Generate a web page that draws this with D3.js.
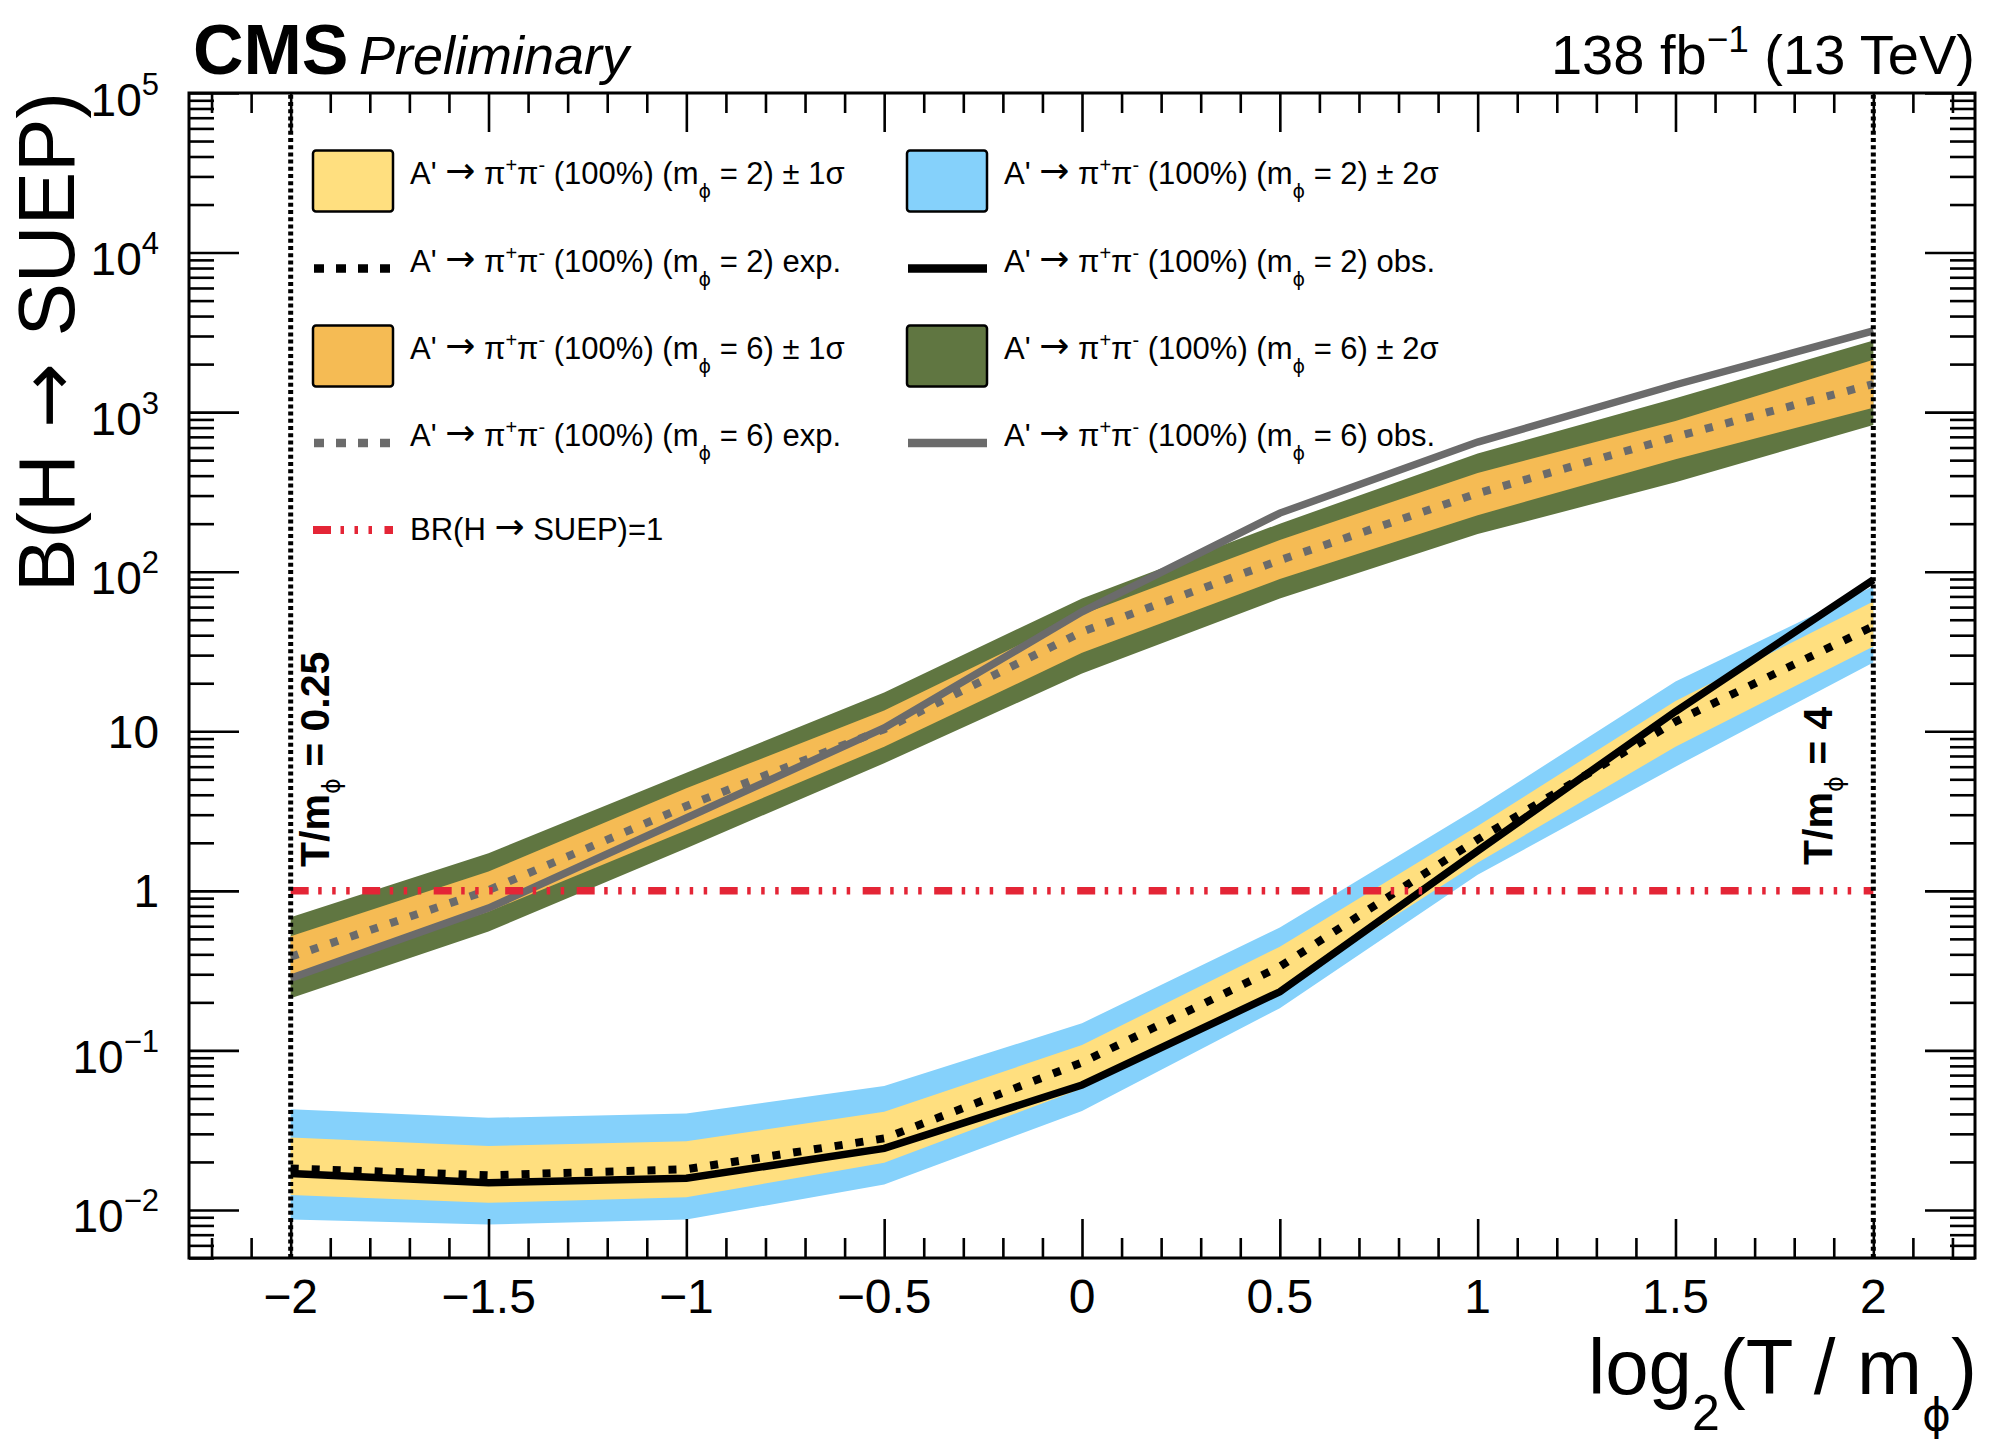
<!DOCTYPE html>
<html><head><meta charset="utf-8">
<script src="https://cdn.jsdelivr.net/npm/d3@7"></script>
<style>body{margin:0;background:#fff} text{font-family:"Liberation Sans",Arial,Helvetica,sans-serif;fill:#000} .sym{font-family:"DejaVu Sans",sans-serif}</style>
</head><body><svg id="c" width="1999" height="1441"></svg>
<script>
// ---- data ----
const xVals = [-2, -1.5, -1, -0.5, 0, 0.5, 1, 1.5, 2];
// m_phi = 2
const m2Exp = [0.0182, 0.0165, 0.0180, 0.0281, 0.084, 0.335, 2.1, 11.5, 45.5];
const m2Obs = [0.0169, 0.0148, 0.0158, 0.0243, 0.0607, 0.233, 1.78, 13.3, 89];
const m2Up1 = [0.0285, 0.0252, 0.027, 0.0412, 0.108, 0.447, 2.55, 15.5, 65];
const m2Dn1 = [0.0124, 0.0111, 0.012, 0.0198, 0.0578, 0.239, 1.5, 8.0, 34];
const m2Up2 = [0.0427, 0.0378, 0.0403, 0.0598, 0.148, 0.589, 3.3, 20.5, 81];
const m2Dn2 = [0.0087, 0.0081, 0.0087, 0.01445, 0.0417, 0.184, 1.26, 6.0, 27];
// m_phi = 6
const m6Exp = [0.386, 1.01, 3.4, 10.3, 42, 118, 310, 700, 1500];
const m6Obs = [0.283, 0.78, 2.86, 10.5, 56, 233, 649, 1485, 3228];
const m6Up1 = [0.52, 1.32, 4.4, 13.5, 54, 158, 416, 880, 2130];
const m6Dn1 = [0.297, 0.74, 2.4, 8.0, 31, 90, 226, 506, 1066];
const m6Up2 = [0.684, 1.72, 5.5, 17.5, 68, 200, 550, 1224, 2810];
const m6Dn2 = [0.212, 0.556, 1.85, 6.3, 23, 68, 172, 363, 831];
// reference lines
const brLine = [1, 1];
const brX = [-2, 2];
const boundaryX = [-2, 2];
const boundaryLabels = ["0.25", "4"];
// ticks
const xMajor = [-2, -1.5, -1, -0.5, 0, 0.5, 1, 1.5, 2];
const xTickLabels = ["\u22122", "\u22121.5", "\u22121", "\u22120.5", "0", "0.5", "1", "1.5", "2"];
const xMinor = [-2.2,-2.1,-1.9,-1.8,-1.7,-1.6,-1.4,-1.3,-1.2,-1.1,-0.9,-0.8,-0.7,-0.6,-0.4,-0.3,-0.2,-0.1,
                0.1,0.2,0.3,0.4,0.6,0.7,0.8,0.9,1.1,1.2,1.3,1.4,1.6,1.7,1.8,1.9,2.1,2.2];
const yMajor = [1e-2, 1e-1, 1, 10, 1e2, 1e3, 1e4, 1e5];
const yTickBase = ["10", "10", "1", "10", "10", "10", "10", "10"];
const yTickExp = ["\u22122", "\u22121", "", "", "2", "3", "4", "5"];
const yMinorMant = [2,3,4,5,6,7,8,9];
const yMinorDec = [-3,-2,-1,0,1,2,3,4];
// legend
const legendMass = ["2", "2", "6", "6"];
const legendLeftSuffix = ["\u00b1 1\u03c3", "exp.", "\u00b1 1\u03c3", "exp."];
const legendRightSuffix = ["\u00b1 2\u03c3", "obs.", "\u00b1 2\u03c3", "obs."];

// ---- colours ----
const C = {yel:"#FFDF7F", blu:"#85D1FB", ora:"#F5BB54", grn:"#607641", gray:"#6b6b6b", red:"#E42536"};
const PHI = "\u03d5", ARROW = "\u2192";

// ---- layout ----
const W = 1999, H = 1441;
const F = {l:189, r:1975, t:93, b:1258};
const x = d3.scaleLinear().domain([-2.257, 2.257]).range([F.l, F.r]);
const y = d3.scaleLog().domain([0.005, 1e5]).range([F.b, F.t]);

const svg = d3.select("#c");
svg.append("rect").attr("width", W).attr("height", H).attr("fill", "#fff");
svg.append("clipPath").attr("id","fr").append("rect")
   .attr("x",F.l).attr("y",F.t).attr("width",F.r-F.l).attr("height",F.b-F.t);
const plot = svg.append("g").attr("clip-path","url(#fr)");

const band = (lo, hi) => d3.area().x((d,i)=>x(xVals[i])).y0((d,i)=>y(lo[i])).y1((d,i)=>y(hi[i]))(xVals);
const line = (v) => d3.line().x((d,i)=>x(xVals[i])).y((d,i)=>y(v[i]))(xVals);

// upper (m=6)
plot.append("path").attr("d", band(m6Dn2, m6Up2)).attr("fill", C.grn);
plot.append("path").attr("d", band(m6Dn1, m6Up1)).attr("fill", C.ora);
plot.append("path").attr("d", line(m6Exp)).attr("fill","none").attr("stroke",C.gray).attr("stroke-width",8).attr("stroke-dasharray","8,13");
plot.append("path").attr("d", line(m6Obs)).attr("fill","none").attr("stroke",C.gray).attr("stroke-width",7.5);
// lower (m=2)
plot.append("path").attr("d", band(m2Dn2, m2Up2)).attr("fill", C.blu);
plot.append("path").attr("d", band(m2Dn1, m2Up1)).attr("fill", C.yel);
plot.append("path").attr("d", line(m2Exp)).attr("fill","none").attr("stroke","#000").attr("stroke-width",8).attr("stroke-dasharray","8,13");
plot.append("path").attr("d", line(m2Obs)).attr("fill","none").attr("stroke","#000").attr("stroke-width",7.5);

// BR = 1 line
const redDash = "18,9.5,3.5,10.5,3.5,10.5,3.5,12.5";
plot.append("path").attr("d", d3.line().x((d,i)=>x(brX[i])).y((d,i)=>y(brLine[i]))(brX))
   .attr("stroke",C.red).attr("stroke-width",7.5).attr("fill","none").attr("stroke-dasharray",redDash);

// boundary lines
boundaryX.forEach(v=>{
  plot.append("path").attr("d", d3.line()([[x(v), y(0.005)],[x(v), y(1e5)]]))
    .attr("stroke","#000").attr("stroke-width",5).attr("stroke-dasharray","4,3.2").attr("fill","none");
});
// boundary labels
const bl = [{v:-2, dx:38, yy:867}, {v:2, dx:-41, yy:865}];
bl.forEach((b,i)=>{
  const t = svg.append("text").attr("transform",`translate(${x(b.v)+b.dx},${b.yy}) rotate(-90)`)
     .attr("font-size",41).attr("font-weight","bold");
  t.append("tspan").text("T/m");
  t.append("tspan").attr("class","sym").attr("font-weight","normal").attr("font-size",24).attr("dy",11).text(PHI);
  t.append("tspan").attr("dy",-11).text(" = " + boundaryLabels[i]);
});

// ---- axes ----
const tk = (sel)=>{ sel.select(".domain").remove(); sel.selectAll("line").attr("stroke","#000").attr("stroke-width",2.6); };
svg.append("g").attr("transform",`translate(0,${F.b})`).call(d3.axisBottom(x).tickValues(xMajor).tickSize(-39).tickSizeOuter(0).tickFormat("")).call(tk);
svg.append("g").attr("transform",`translate(0,${F.b})`).call(d3.axisBottom(x).tickValues(xMinor).tickSize(-20).tickSizeOuter(0).tickFormat("")).call(tk);
svg.append("g").attr("transform",`translate(0,${F.t})`).call(d3.axisTop(x).tickValues(xMajor).tickSize(-39).tickSizeOuter(0).tickFormat("")).call(tk);
svg.append("g").attr("transform",`translate(0,${F.t})`).call(d3.axisTop(x).tickValues(xMinor).tickSize(-20).tickSizeOuter(0).tickFormat("")).call(tk);
const yMinor = [];
yMinorDec.forEach(d=>yMinorMant.forEach(m=>{const v=m*Math.pow(10,d); if(v>=0.005 && v<1e5) yMinor.push(v);}));
svg.append("g").attr("transform",`translate(${F.l},0)`).call(d3.axisLeft(y).tickValues(yMajor).tickSize(-50).tickSizeOuter(0).tickFormat("")).call(tk);
svg.append("g").attr("transform",`translate(${F.l},0)`).call(d3.axisLeft(y).tickValues(yMinor).tickSize(-25).tickSizeOuter(0).tickFormat("")).call(tk);
svg.append("g").attr("transform",`translate(${F.r},0)`).call(d3.axisRight(y).tickValues(yMajor).tickSize(-50).tickSizeOuter(0).tickFormat("")).call(tk);
svg.append("g").attr("transform",`translate(${F.r},0)`).call(d3.axisRight(y).tickValues(yMinor).tickSize(-25).tickSizeOuter(0).tickFormat("")).call(tk);
svg.append("rect").attr("x",F.l).attr("y",F.t).attr("width",F.r-F.l).attr("height",F.b-F.t)
   .attr("fill","none").attr("stroke","#000").attr("stroke-width",3);

// x tick labels
xMajor.forEach((v,i)=>{
  svg.append("text").attr("x",x(v)).attr("y",1313).attr("text-anchor","middle").attr("font-size",48).text(xTickLabels[i]);
});
// y tick labels
yMajor.forEach((v,i)=>{
  const yy = y(v);
  const t = svg.append("text").attr("x",159).attr("text-anchor","end").attr("font-size",46);
  if (yTickExp[i]) {
    t.attr("y", yy+22.5);
    t.append("tspan").text(yTickBase[i]);
    t.append("tspan").attr("font-size",31).attr("dy",-21).text(yTickExp[i]);
  } else {
    t.attr("y", yy+16.5).text(yTickBase[i]);
  }
});

// axis titles
const xt = svg.append("text").attr("x",1977).attr("y",1394).attr("text-anchor","end").attr("font-size",78);
xt.append("tspan").text("log");
xt.append("tspan").attr("font-size",50).attr("dy",36).text("2");
xt.append("tspan").attr("dy",-36).text("(T / m");
xt.append("tspan").attr("class","sym").attr("font-size",44).attr("dy",36).text(PHI);
xt.append("tspan").attr("dy",-36).text(")");

const yt = svg.append("text").attr("transform","translate(74,92) rotate(-90)").attr("text-anchor","end").attr("font-size",80);
yt.append("tspan").text("B(H ");
yt.append("tspan").attr("class","sym").attr("font-size",78).attr("dx",4).text(ARROW);
yt.append("tspan").attr("dx",4).text(" SUEP)");

// header
svg.append("text").attr("x",193).attr("y",74).attr("font-size",70).attr("font-weight","bold").text("CMS");
svg.append("text").attr("x",359).attr("y",74).attr("font-size",54).attr("font-style","italic").text("Preliminary");
const lum = svg.append("text").attr("x",1975).attr("y",74).attr("text-anchor","end").attr("font-size",56);
lum.append("tspan").text("138 fb");
lum.append("tspan").attr("font-size",37).attr("dy",-22).text("\u22121");
lum.append("tspan").attr("dy",22).text(" (13 TeV)");

// ---- legend ----
const rowY = [181, 268.5, 356, 443, 530];
const colBox = [313, 907];
const colTxt = [410, 1004];
function legText(xx, yy, mass, suffix){
  const t = svg.append("text").attr("x",xx).attr("y",yy).attr("font-size",31);
  t.append("tspan").text("A' ");
  t.append("tspan").attr("class","sym").attr("font-size",36).attr("dy",-1).text(ARROW);
  t.append("tspan").attr("dy",1).text(" \u03c0");
  t.append("tspan").attr("font-size",20).attr("dy",-12).text("+");
  t.append("tspan").attr("dy",12).text("\u03c0");
  t.append("tspan").attr("font-size",20).attr("dy",-12).text("-");
  t.append("tspan").attr("dy",12).text(" (100%) (m");
  t.append("tspan").attr("class","sym").attr("font-size",19).attr("dy",14).text(PHI);
  t.append("tspan").attr("dy",-14).text(" = " + mass + ") " + suffix);
}
const legendFill = [[C.yel, C.blu], null, [C.ora, C.grn], null];
const legendLine = [null, [["#000","8,13"],["#000",null]], null, [[C.gray,"8,13"],[C.gray,null]]];
for (let r=0; r<4; r++){
  for (let c=0; c<2; c++){
    if (legendFill[r]) {
      svg.append("rect").attr("x",colBox[c]).attr("y",rowY[r]-30.5).attr("width",80).attr("height",61)
        .attr("rx",3).attr("fill",legendFill[r][c]).attr("stroke","#000").attr("stroke-width",2.5);
    } else {
      const [col, dash] = legendLine[r][c];
      const p = svg.append("line").attr("x1",colBox[c]+1).attr("x2",colBox[c]+80).attr("y1",rowY[r]).attr("y2",rowY[r])
        .attr("stroke",col).attr("stroke-width",8.5);
      if (dash) p.attr("stroke-dasharray","10,12");
    }
    legText(colTxt[c], rowY[r]+3, legendMass[r], c===0 ? legendLeftSuffix[r] : legendRightSuffix[r]);
  }
}
svg.append("line").attr("x1",colBox[0]).attr("x2",colBox[0]+80).attr("y1",rowY[4]).attr("y2",rowY[4])
  .attr("stroke",C.red).attr("stroke-width",8).attr("stroke-dasharray",redDash);
const br = svg.append("text").attr("x",colTxt[0]).attr("y",rowY[4]+10).attr("font-size",31);
br.append("tspan").text("BR(H ");
br.append("tspan").attr("class","sym").attr("font-size",36).attr("dy",-1).text(ARROW);
br.append("tspan").attr("dy",1).text(" SUEP)=1");
</script></body></html>
